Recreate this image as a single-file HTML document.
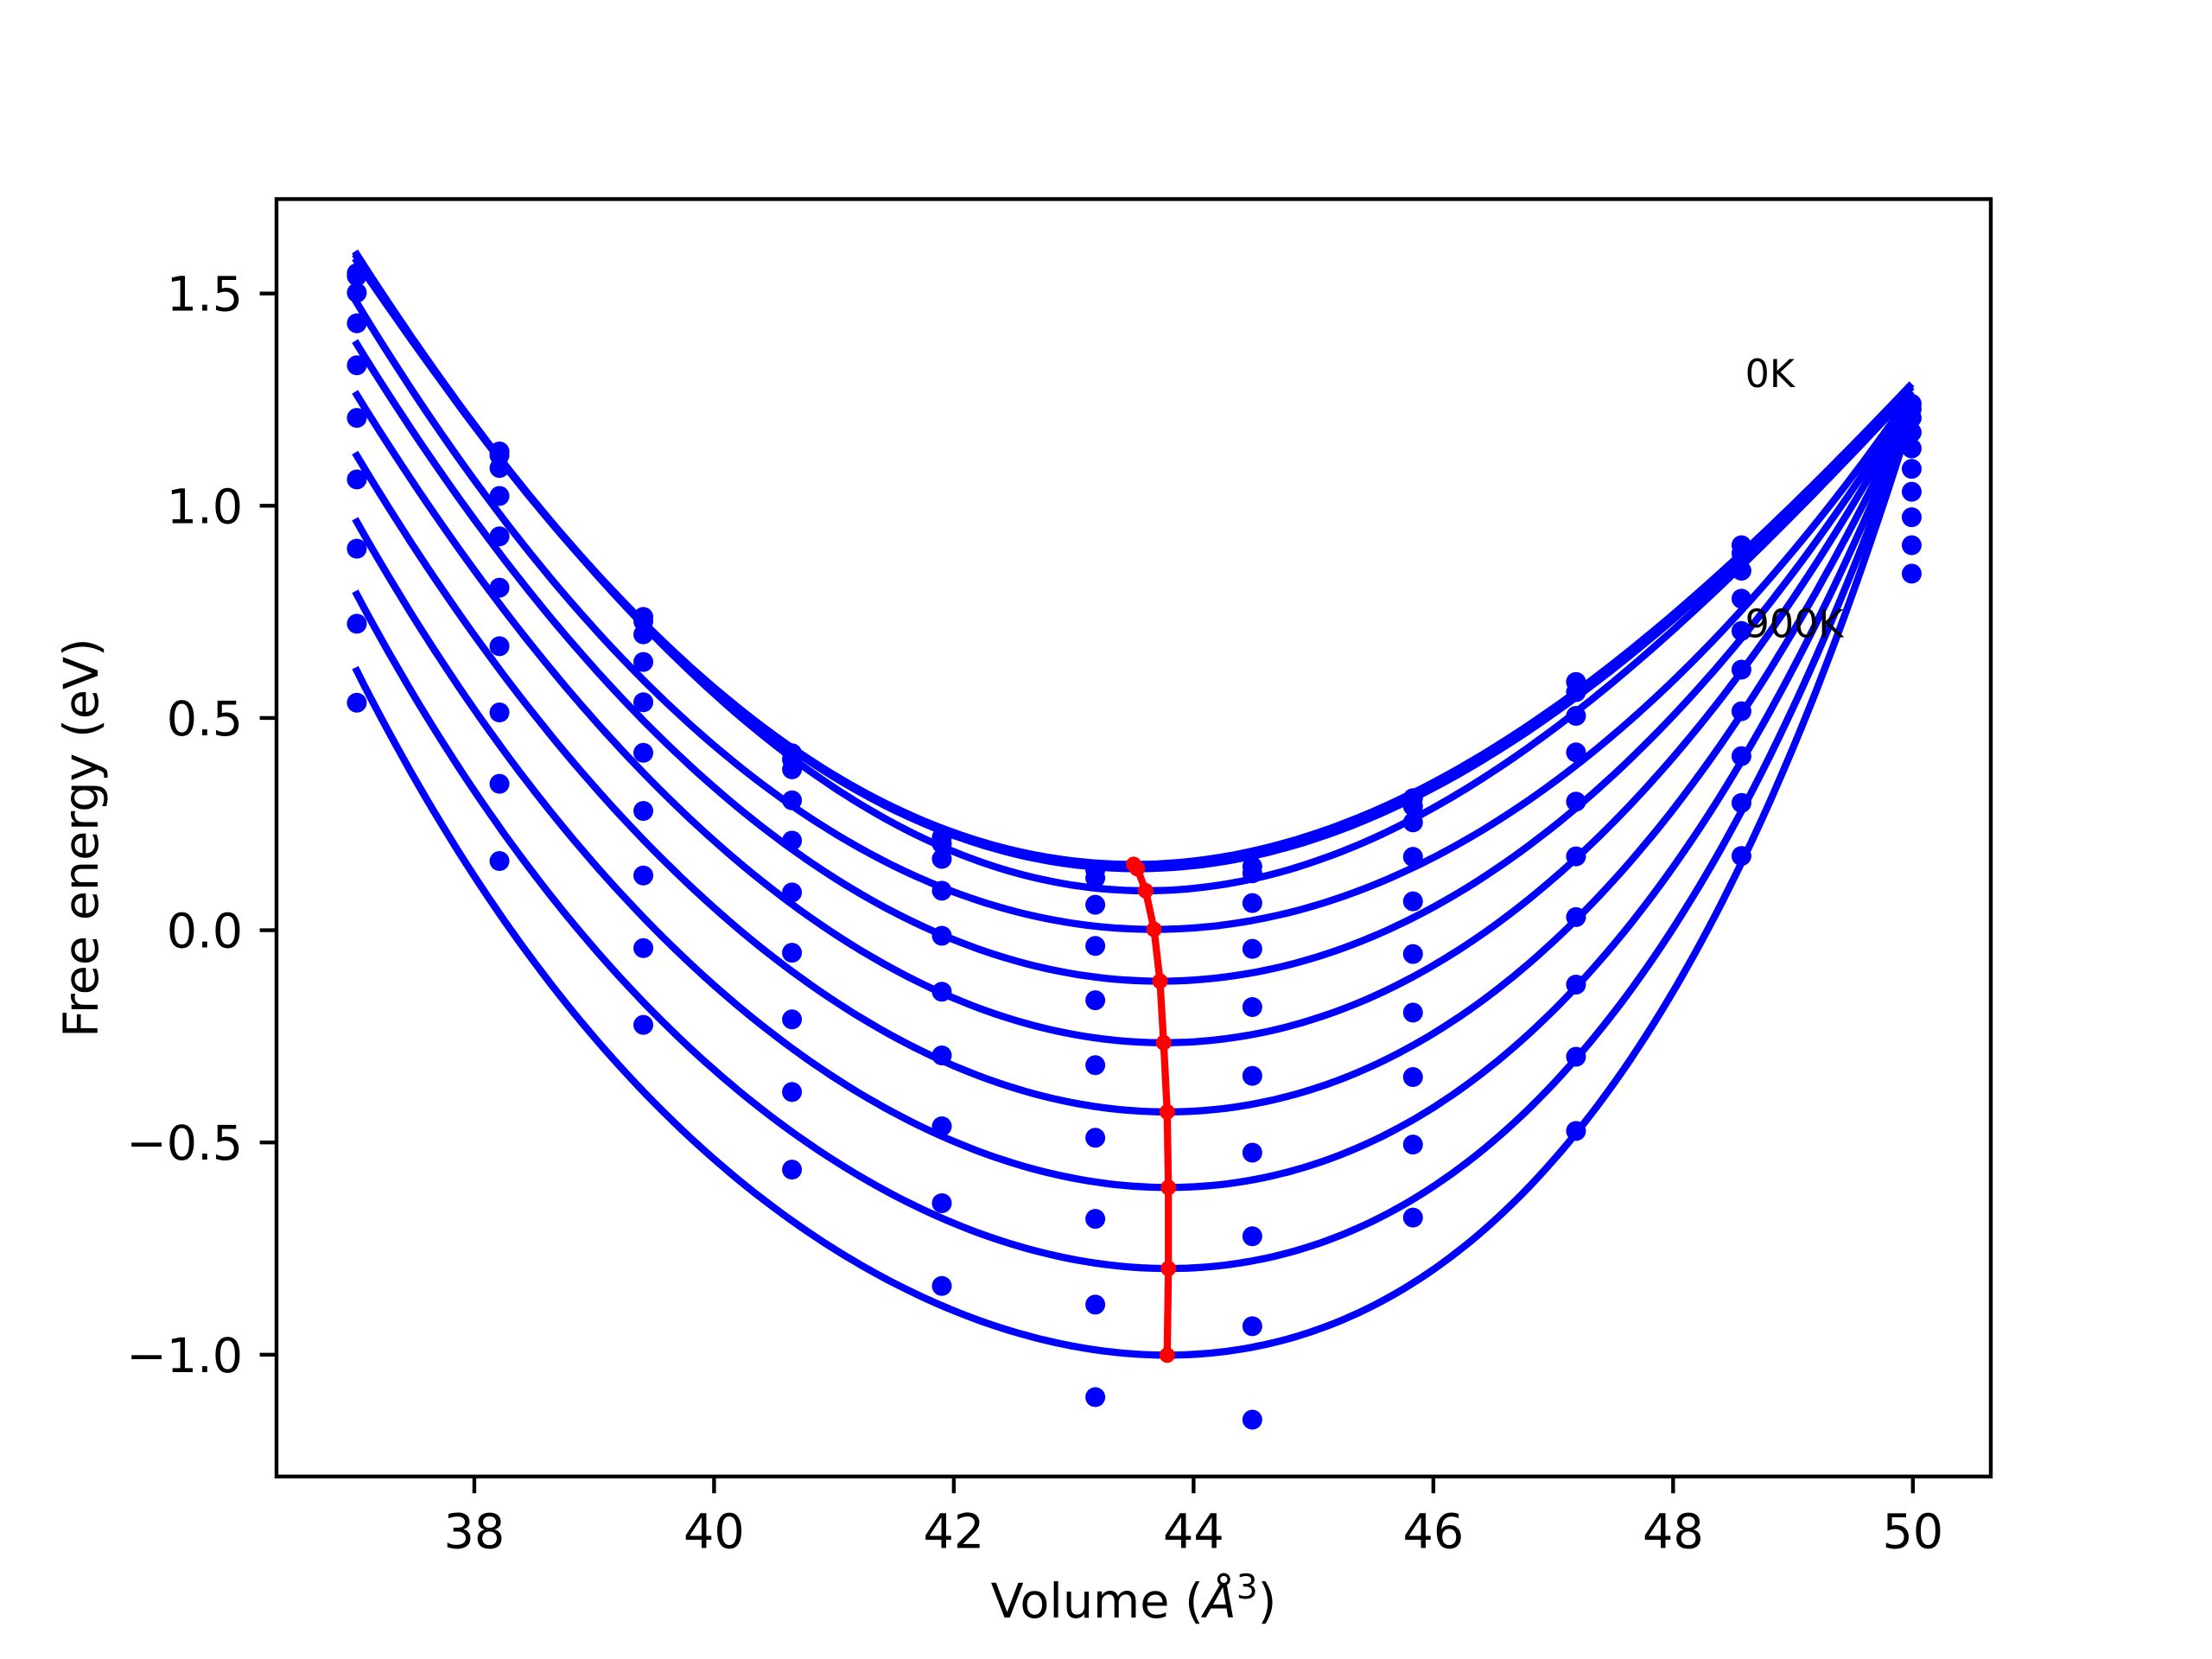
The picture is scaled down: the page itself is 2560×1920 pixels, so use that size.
<!DOCTYPE html>
<html><head><meta charset="utf-8"><style>
html,body{margin:0;padding:0;background:#fff;}
svg{display:block;font-family:"DejaVu Sans","Liberation Sans",sans-serif;}
</style></head><body>
<svg id="chart" width="2560" height="1920" viewBox="0 0 2560 1920" xmlns="http://www.w3.org/2000/svg">
<rect x="0" y="0" width="2560" height="1920" fill="#fff"/>
<g id="plot"></g>
<g id="axes"></g>
</svg>
<script>
// ---- data ----
const temperatures = ["0K","100K","200K","300K","400K","500K","600K","700K","800K","900K"];
const dotVolumes = [37.02,38.21,39.41,40.65,41.90,43.18,44.49,45.83,47.19,48.57,49.99];
const dots0 = [1.548,1.128,0.738,0.417,0.219,0.142,0.150,0.311,0.585,0.907,1.240];
const dots1 = [1.541,1.119,0.728,0.402,0.204,0.123,0.134,0.292,0.561,0.888,1.228];
const dots2 = [1.502,1.089,0.697,0.379,0.168,0.060,0.064,0.254,0.505,0.847,1.207];
const dots3 = [1.430,1.023,0.632,0.306,0.093,-0.037,-0.044,0.173,0.419,0.781,1.173];
const dots4 = [1.331,0.928,0.537,0.211,-0.013,-0.165,-0.181,0.068,0.303,0.705,1.135];
const dots5 = [1.207,0.807,0.418,0.089,-0.145,-0.318,-0.343,-0.056,0.174,0.614,1.087];
const dots6 = [1.062,0.669,0.281,-0.053,-0.295,-0.489,-0.524,-0.194,0.031,0.516,1.033];
const dots7 = [0.899,0.513,0.129,-0.210,-0.462,-0.680,-0.721,-0.346,-0.128,0.410,0.973];
const dots8 = [0.722,0.345,-0.042,-0.381,-0.643,-0.882,-0.933,-0.505,-0.298,0.300,0.907];
const dots9 = [0.536,0.163,-0.223,-0.564,-0.838,-1.100,-1.153,-0.677,-0.473,0.175,0.840];
const dotSeries = [dots0,dots1,dots2,dots3,dots4,dots5,dots6,dots7,dots8,dots9];
// fitted curve parameters (equilibrium volume, minimum energy, energies at fit anchors)
const minVolumes = [43.50,43.53,43.60,43.67,43.72,43.75,43.78,43.79,43.79,43.78];
const minEnergies = [0.155,0.145,0.093,0.002,-0.120,-0.265,-0.428,-0.606,-0.797,-1.001];
const fitVolumes = [37.02,47.22,49.97];
const leftEnergies = [1.592,1.586,1.576,1.478,1.381,1.261,1.118,0.962,0.791,0.611];
const midEnergies = [0.568,0.555,0.521,0.395,0.295,0.177,0.033,-0.125,-0.293,-0.468];
const rightEnergies = [1.281,1.274,1.264,1.254,1.244,1.234,1.224,1.214,1.204,1.194];
const xTicks = [38,40,42,44,46,48,50];
const yTicks = [-1.0,-0.5,0.0,0.5,1.0,1.5];
const annotations = [{t:"0K",v:48.6,e:1.28},{t:"900K",v:48.6,e:0.69}];

// ---- axes geometry ----
const L=320,R=2304,T=230.4,B=1708.8;
const xMin=36.35,xMax=50.65,yMin=-1.287,yMax=1.7225;
const X=v=>L+(v-xMin)/(xMax-xMin)*(R-L);
const Y=e=>B-(e-yMin)/(yMax-yMin)*(B-T);
const NS="http://www.w3.org/2000/svg";
const plot=document.getElementById('plot'), axes=document.getElementById('axes');
function mk(tag,attrs,parent){const el=document.createElementNS(NS,tag);for(const k in attrs)el.setAttribute(k,attrs[k]);parent.appendChild(el);return el;}

const defs=mk('defs',{},document.getElementById('chart'));
const cp=mk('clipPath',{id:'clip'},defs);mk('rect',{x:L,y:T,width:R-L,height:B-T},cp);
plot.setAttribute('clip-path','url(#clip)');

function solve3(A,b){
  const M=A.map((r,i)=>r.concat([b[i]]));
  for(let i=0;i<3;i++){let p=i;for(let j=i+1;j<3;j++)if(Math.abs(M[j][i])>Math.abs(M[p][i]))p=j;[M[i],M[p]]=[M[p],M[i]];
    for(let j=0;j<3;j++){if(j===i)continue;const f=M[j][i]/M[i][i];for(let k=i;k<4;k++)M[j][k]-=f*M[i][k];}}
  return [M[0][3]/M[0][0],M[1][3]/M[1][1],M[2][3]/M[2][2]];
}

// curves
for(let i=0;i<temperatures.length;i++){
  const V0=minVolumes[i],E0=minEnergies[i];
  const targets=[leftEnergies[i],midEnergies[i],rightEnergies[i]];
  const A=fitVolumes.map(v=>{const d=v-V0;return [d*d,d*d*d,d*d*d*d];});
  const c=solve3(A,targets.map(t=>t-E0));
  let pts=[];
  for(let k=0;k<=200;k++){const v=fitVolumes[0]+(fitVolumes[2]-fitVolumes[0])*k/200;const d=v-V0;
    const e=E0+c[0]*d*d+c[1]*d*d*d+c[2]*d*d*d*d;pts.push(X(v).toFixed(1)+','+Y(e).toFixed(1));}
  const pl=mk('polyline',{points:pts.join(' '),fill:'none',stroke:'#0000ff','stroke-width':8.3,'stroke-linecap':'square'},plot);
  
  
}
// dots
for(let i=0;i<dotSeries.length;i++){
  const g=mk('g',{},plot);
  
  
  dotSeries[i].forEach((e,j)=>{
    const c=mk('circle',{cx:X(dotVolumes[j]),cy:Y(e),r:11.5,fill:'#0000ff'},g);
    
    
  });
}
// red minima path
const rp=minVolumes.map((v,i)=>X(v).toFixed(1)+','+Y(minEnergies[i]).toFixed(1)).join(' ');
const redLine=mk('polyline',{points:rp,fill:'none',stroke:'#ff0000','stroke-width':8.3},plot);


minVolumes.forEach((v,i)=>{
  const c=mk('circle',{cx:X(v),cy:Y(minEnergies[i]),r:9,fill:'#ff0000'},plot);
  
  
});
// annotations
annotations.forEach(a=>{
  const t=mk('text',{x:X(a.v),y:Y(a.e),'font-size':44.4,fill:'#000'},plot);
  t.textContent=a.t;
  
  
});
// frame
const frame=mk('rect',{x:L,y:T,width:R-L,height:B-T,fill:'none',stroke:'#000','stroke-width':4.4},axes);


// ticks
xTicks.forEach(v=>{
  const l=mk('line',{x1:X(v),x2:X(v),y1:B,y2:B+19.4,stroke:'#000','stroke-width':4.4},axes);
  
  
  const t=mk('text',{x:X(v),y:B+19.4+19.4+44,'font-size':55.6,'text-anchor':'middle'},axes);
  t.textContent=String(v);
  
  
});
yTicks.forEach(e=>{
  const l=mk('line',{x1:L-19.4,x2:L,y1:Y(e),y2:Y(e),stroke:'#000','stroke-width':4.4},axes);
  
  
  const t=mk('text',{x:L-19.4-19.4,y:Y(e)+20,'font-size':55.6,'text-anchor':'end'},axes);
  t.textContent=(e<0?'\u2212':'')+Math.abs(e).toFixed(1);
  
  
});
// axis titles
const xt=mk('text',{x:(L+R)/2,y:1872,'font-size':55.6,'text-anchor':'middle'},axes);
xt.innerHTML='Volume (<tspan font-style="italic">Å</tspan><tspan font-size="39" dy="-22">3</tspan><tspan dy="22">)</tspan>';


const yt=mk('text',{x:0,y:0,'font-size':55.6,'text-anchor':'middle',transform:'translate(113,'+((T+B)/2)+') rotate(-90)'},axes);
yt.textContent='Free energy (eV)';


</script>
</body></html>
